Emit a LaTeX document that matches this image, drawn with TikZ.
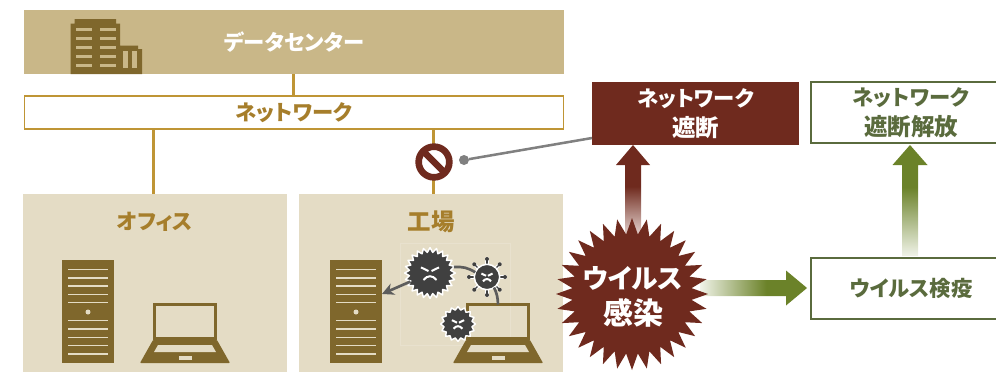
\documentclass[tikz,border=0pt]{standalone}
\usepackage{fontspec}
\setmainfont{Noto Sans CJK JP}[RawFeature=+palt]
\usetikzlibrary{shapes.geometric,arrows.meta}
\definecolor{sand}{HTML}{C9B788}
\definecolor{pale}{HTML}{E4DCC5}
\definecolor{gold}{HTML}{BF9535}
\definecolor{goldtext}{HTML}{A67E2B}
\definecolor{icon}{HTML}{7F672C}
\definecolor{wine}{HTML}{6F2A1E}
\definecolor{moss}{HTML}{5A6B3D}
\definecolor{leaf}{HTML}{6B8229}
\definecolor{germ}{HTML}{404040}
\definecolor{winefade}{HTML}{E6D4D0}
\definecolor{leaffade}{HTML}{F0F3E8}
\pgfdeclareverticalshading{wineup}{100bp}{color(0bp)=(winefade); color(25bp)=(winefade); color(52bp)=(wine); color(100bp)=(wine)}
\pgfdeclareverticalshading{leafup}{100bp}{color(0bp)=(leaffade); color(25bp)=(leaffade); color(56bp)=(leaf); color(100bp)=(leaf)}
\pgfdeclarehorizontalshading{leafright}{100bp}{color(0bp)=(leaffade); color(25bp)=(leaffade); color(56bp)=(leaf); color(100bp)=(leaf)}
\newcommand{\kanjisize}{\fontsize{17.6pt}{22.5pt}\selectfont}
\begin{document}
\begin{tikzpicture}[
  x=.75pt, y=-.75pt,
  every node/.style={inner sep=0pt, outer sep=0pt, font=\fontsize{16pt}{22.5pt}\selectfont\bfseries, align=center},
  area/.style={fill=pale, minimum width=198pt, minimum height=133.5pt},
  areatext/.style={text=goldtext},
  link/.style={draw=gold, line width=1.9pt},
  redbox/.style={fill=wine, text=white, minimum width=155.25pt, minimum height=47.25pt},
  greenbox/.style={draw=moss, line width=1.9pt, fill=white, text=moss, minimum width=150pt, minimum height=46pt},
  virus/.style={star, star point ratio=1.22, fill=germ, draw=white, line width=1.1pt, line join=round},
  virline/.style={draw=germ!85, line width=2pt},
  pics/server/.style={code={
    \node[fill=icon, minimum width=39pt, minimum height=77.25pt] (-body) at (0,0) {};
    \foreach \y in {-42,-33.7,-25.4,-17,-8.8,9.2,17.5,25.8,34.2,42.5}
      \draw[pale, line width=1.1pt] (-20,\y) -- (20,\y);
    \fill[pale] (0,.5) circle (2.5);
  }},
  pics/laptop/.style={code={
    \node[draw=icon, line width=2.25pt, minimum width=45.75pt, minimum height=25.5pt] (-screen) at (0,0) {};
    \fill[icon, rounded corners=.6pt] (-32,18.5) -- (32,18.5) -- (45,41.5) -- (-45,41.5) -- cycle;
    \fill[pale] (-27,23.5) -- (27,23.5) -- (31,30.5) -- (-31,30.5) -- cycle;
    \fill[pale] (-6.5,34.5) rectangle (6.5,38);
  }}
]
\path[use as bounding box, clip] (0,0) rectangle (996,372);

% Data center and network
\node[fill=sand, text=white, minimum width=405pt, minimum height=48pt] (dc) at (294,42) {データセンター};
\node[draw=gold, line width=1.2pt, text=goldtext, fill=white, minimum width=404pt, minimum height=25pt] (net) at (294,112.5) {ネットワーク};
\draw[link] ([xshift=-.5pt]dc.south) -- ([xshift=-.5pt]net.north);

% Building icon
\fill[icon] (70.7,74) -- (70.7,23.5) -- (74.7,23.5) -- (74.7,19) -- (116,19) -- (116,23.5) -- (120,23.5) -- (120,45.7)
  -- (138,45.7) -- (138,49) -- (142,49) -- (142,74) -- cycle;
\foreach \y in {27.7,36.7,45.7,54.7,63.7} {
  \fill[sand] (76,\y) rectangle (91.7,\y+3.6);
  \fill[sand] (100,\y) rectangle (115.7,\y+3.6);
}
\fill[sand] (123.3,51) rectangle (127.7,68.3);
\fill[sand] (132.3,51) rectangle (136.7,68.3);

% Office
\node[area] (office) at (155,283) {};
\node[areatext] (officetext) at (155,222) {オフィス};
\draw[link] ([xshift=-1.2pt]office.north) -- ([xshift=-1.2pt]office.north |- net.south);
\pic (srvA) at (88,311.5) {server};
\pic (lapA) at (185,321.5) {laptop};

% Factory
\node[area] (factory) at (431,283) {};
\node[areatext] (factorytext) at (431,222) {\kanjisize 工場};
\draw[link] ([xshift=1.7pt]factory.north) -- ([xshift=1.7pt]factory.north |- net.south);
\pic (srvB) at (356,311.5) {server};
\draw[pale!85!white, line width=.5pt] (400,243) rectangle (510,345);
\pic (lapB) at (498,321.5) {laptop};

% Viruses
\node[virus, star points=24, minimum size=38pt] (virA) at (430,273) {};
\node[virus, star points=16, minimum size=26pt] (virC) at (458,324) {};
\foreach \a in {0,45,...,315} {
  \draw[white, line width=2.6pt, line cap=round] (487,277) -- ++(\a:18.5);
  \draw[germ, line width=.9pt] (487,277) -- ++(\a:18);
  \fill[germ] (487,277) ++(\a:18) circle (2);
}
\node[circle, fill=germ, draw=white, line width=1.1pt, minimum size=19pt] (virB) at (487,277) {};
\foreach \v/\s in {virA/1,virB/.62,virC/.68} {
  \begin{scope}[shift={(\v.center)}, scale=\s]
    \draw[white, line width=1.5pt] (-9,-5.6) -- (-1.5,-2);
    \draw[white, line width=1.5pt] (9,-5.6) -- (1.5,-2);
    \draw[white, line width=1.5pt] (-6.5,7) .. controls (-3,2) and (3,2) .. (6.5,7);
  \end{scope}
}
\draw[virline, -{Stealth[length=9pt,width=9pt]}] (virA) -- (srvB-body.34);
\draw[virline] (virA) to[bend left=18] (virB);
\draw[virline] (virB) to[bend left=12] (lapB-screen.north);

% Network block
\node[circle, draw=wine, line width=5pt, fill=white, minimum size=23pt] (stopsign) at (434,162) {};
\draw[wine, line width=5pt] (stopsign.135) -- (stopsign.-45);
\node[circle, fill=black!50, minimum size=7.5pt] (stopdot) at (464,160) {};
\node[redbox] (stopbox) at (695.5,113.5) {ネットワーク\\\kanjisize 遮断};
\draw[black!50, line width=1.9pt] (stopdot) -- ([yshift=5.25pt]stopbox.south west);

% Right hand side
\node[greenbox] (openbox) at (911,112.5) {ネットワーク\\\kanjisize 遮断解放};
\node[greenbox] (checkbox) at (911,288.5) {ウイルス検疫};

\coordinate (redtip) at (633,145);
\coordinate (greentip) at (910,145);
\coordinate (righttip) at (807,288);
\shade[shading=wineup] (redtip) -- ++(17,20) -- ++(-9,0) -- ++(0,70) -- ++(-16,0) -- ++(0,-70) -- ++(-9,0) -- cycle;
\shade[shading=leafup] (greentip) -- ++(17.5,20) -- ++(-9.5,0) -- ++(0,91) -- ++(-16,0) -- ++(0,-91) -- ++(-9.5,0) -- cycle;
\shade[shading=leafright] (righttip) -- ++(-21,17.5) -- ++(0,-9.5) -- ++(-86,0) -- ++(0,-16) -- ++(86,0) -- ++(0,-9.5) -- cycle;

% Infection burst
\node[star, star points=32, star point ratio=1.27, fill=wine, minimum size=114pt] (burst) at (632,294) {};
\node[text=white, font=\fontsize{20pt}{27pt}\selectfont\bfseries] (bursttext) at (633,297) {ウイルス\\{\fontsize{22.5pt}{27pt}\selectfont 感染}};
\end{tikzpicture}
\end{document}
